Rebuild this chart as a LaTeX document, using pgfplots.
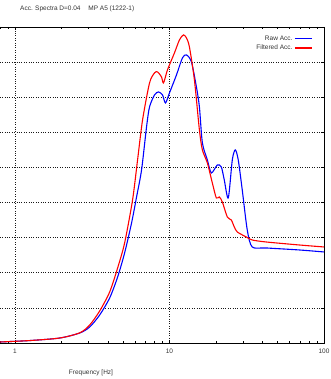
\documentclass[border=0pt]{standalone}
\usepackage{fontspec}
\setmainfont{Liberation Sans}
\usepackage{pgfplots}
\pgfplotsset{compat=1.18}
\begin{document}
\begin{tikzpicture}
\begin{axis}[name=ax,
  scale only axis, width=329pt, height=316pt,
  xmode=log, xmin=0.743, xmax=100,
  ymin=0, ymax=9,
  ytick={0,1,...,9}, yticklabels={},
  xtick={1,10,100}, xticklabels={1,10,100},
  minor xtick={0.8,0.9,2,3,4,5,6,7,8,9,20,30,40,50,60,70,80,90},
  /pgf/number format/assume math mode=true,
  tick label style={font=\fontsize{6.5}{8}\selectfont, black!80},
  tick align=inside,
  major tick length=3pt, minor tick length=2pt,
  every tick/.style={black, line width=0.6pt},
  grid=major,
  major grid style={dotted, black!90, line width=0.7pt},
  axis line style={line width=0.8pt},
  xticklabel style={yshift=-2pt},
  legend style={draw=none, fill=none, font=\fontsize{6.5}{8}\selectfont,
    at={(rel axis cs:0.975,0.985)}, anchor=north east, row sep=-1pt,
    text=black!80},
  legend cell align=right, legend plot pos=right,
  legend image post style={line width=1.1pt},
]
\addplot[blue, line width=1.1pt, smooth, tension=0.45] coordinates {
(0.743,0.01) (0.800,0.028) (1.25,0.07) (1.951,0.142) (2.627,0.285) (3.047,0.456)
(3.535,0.798) (4.102,1.282) (4.619,1.880) (5.125,2.564) (5.685,3.419)
(6.125,4.16) (6.598,4.929) (7.106,6.154) (7.430,6.724) (8.002,7.066)
(8.492,7.151) (9.013,7.066) (9.423,6.838) (10,7.123) (11.10,7.635)
(12.13,8.120) (12.88,8.205) (13.87,8.006) (14.94,7.293) (15.62,6.724)
(16.33,5.698) (17.59,5.214) (18.66,4.843) (20.40,5.071) (21.65,5.014)
(22.63,4.644) (24.02,4.131) (25.50,5.214) (26.66,5.499) (27.87,5.214)
(29.58,4.359) (31.87,3.219) (34.31,2.735) (42.25,2.707) (69.0,2.650) (100,2.593)
};
\addlegendentry{Raw Acc.}
\addplot[red, line width=1.1pt, smooth, tension=0.45] coordinates {
(0.743,0.01) (0.800,0.028) (1.25,0.07) (1.951,0.142) (2.627,0.29) (3.047,0.513)
(3.535,0.912) (4.102,1.453) (4.619,2.137) (5.125,2.849) (5.770,4.074)
(6.217,5.214) (6.697,6.353) (7.430,7.407) (8.002,7.692) (8.367,7.721)
(8.880,7.578) (9.148,7.407) (9.707,7.778) (10.77,8.262) (11.60,8.632)
(12.31,8.775) (12.88,8.689) (13.46,8.433) (14.50,7.493) (15.62,6.068)
(16.33,5.499) (17.59,5.128) (18.94,4.558) (20.10,4.131) (21.02,4.160)
(21.98,4.017) (23.67,3.590) (25.12,3.504) (26.27,3.305) (27.47,3.162)
(31.40,3.020) (34.31,2.934) (42.25,2.877) (69.0,2.792) (100,2.735)
};
\addlegendentry{Filtered Acc.}
\end{axis}
\node[anchor=base west, font=\fontsize{6.5}{8}\selectfont, text=black!80, inner sep=0pt]
  at ([xshift=25pt,yshift=16pt]ax.north west) {Acc. Spectra D=0.04\hspace{1.2em}MP A5 (1222-1)};
\node[anchor=base, font=\fontsize{6.5}{8}\selectfont, text=black!80, inner sep=0pt]
  at ([xshift=96pt,yshift=-31pt]ax.south west) {Frequency [Hz]};
\pgfresetboundingbox
\path ([xshift=5pt,yshift=-36pt]ax.south west) rectangle ([xshift=6pt,yshift=27pt]ax.north east);
\end{tikzpicture}
\end{document}
